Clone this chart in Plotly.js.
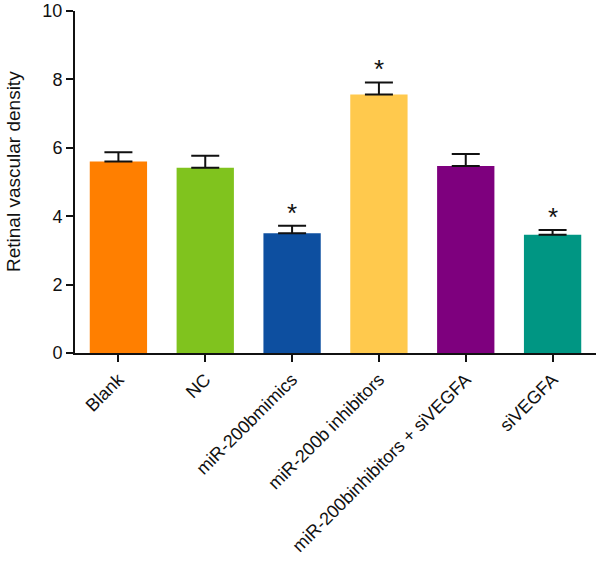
<!DOCTYPE html>
<html>
<head>
<meta charset="utf-8">
<script src="https://cdn.plot.ly/plotly-3.0.1.min.js"></script>
<style>html,body{margin:0;padding:0;background:#fff;}#chart{width:602px;height:565px;}</style>
</head>
<body>
<div id="chart"></div>
<script>
const categories = ["Blank", "NC", "miR-200bmimics", "miR-200b inhibitors", "miR-200binhibitors + siVEGFA", "siVEGFA"];
const values = [5.60, 5.42, 3.50, 7.56, 5.47, 3.46];
const errors = [0.27, 0.35, 0.22, 0.35, 0.35, 0.14];
const significant = [false, false, true, true, false, true];
const colors = ["#FF7F00", "#80C31E", "#0D4FA0", "#FFC94D", "#7E007E", "#009683"];
const yTicks = [0, 2, 4, 6, 8, 10];
const yTitle = "Retinal vascular density";

const font = "Liberation Sans, Arial, sans-serif";

const trace = {
  type: "bar",
  x: categories,
  y: values,
  width: 0.66,
  marker: {color: colors, line: {width: 0}},
  error_y: {type: "data", symmetric: false, array: errors, arrayminus: categories.map(() => 0), color: "#111", thickness: 2, width: 14},
  hoverinfo: "x+y"
};

const annotations = categories.map((c, i) => significant[i] ? {
  x: c, y: values[i] + errors[i], xref: "x", yref: "y",
  text: "*", showarrow: false, yanchor: "bottom", yshift: -4,
  font: {family: font, size: 26, color: "#111"}
} : null).filter(a => a);

annotations.push({
  text: yTitle, textangle: -90, showarrow: false,
  xref: "paper", yref: "paper", x: 0, y: 0.5, xanchor: "center", yanchor: "middle",
  xshift: -62, yshift: 10,
  font: {family: font, size: 19, color: "#111"}
});

const layout = {
  width: 602, height: 565,
  margin: {l: 75, r: 6, t: 11, b: 212},
  paper_bgcolor: "#fff", plot_bgcolor: "#fff",
  showlegend: false,
  bargap: 0.34,
  xaxis: {
    type: "category", range: [-0.5, 5.5],
    showline: true, linecolor: "#111", linewidth: 2,
    ticks: "outside", ticklen: 7, tickwidth: 2, tickcolor: "#111",
    tickangle: -45, tickfont: {family: font, size: 18, color: "#111"},
    ticklabeloverflow: "allow",
    showgrid: false, zeroline: false
  },
  yaxis: {
    range: [0, 10], tickvals: yTicks, ticktext: yTicks.map(String),
    showline: true, linecolor: "#111", linewidth: 2,
    ticks: "outside", ticklen: 7, tickwidth: 2, tickcolor: "#111",
    tickfont: {family: font, size: 18, color: "#111"},
    ticklabeloverflow: "allow",
    showgrid: false, zeroline: false
  },
  annotations: annotations
};

Plotly.newPlot("chart", [trace], layout, {staticPlot: true, displayModeBar: false});
</script>
</body>
</html>
